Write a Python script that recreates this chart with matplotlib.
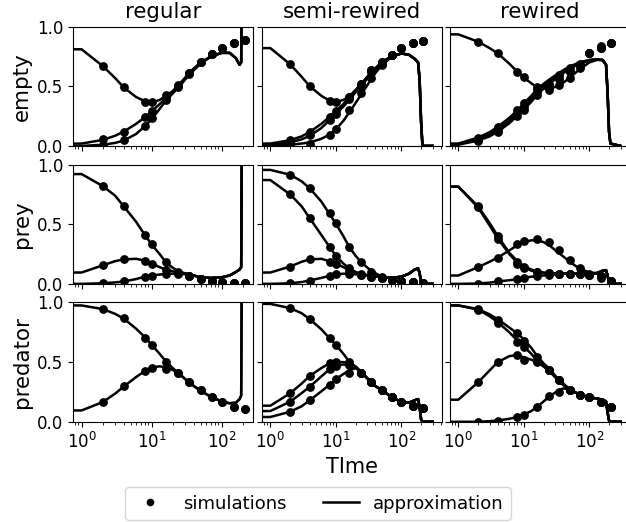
import numpy as np
import matplotlib
matplotlib.use("Agg")
import matplotlib.pyplot as plt
from matplotlib.lines import Line2D

nan = np.nan

# time points of the approximation curves and of the simulation dots
t_line = [0.01, 1, 2, 3, 4, 6, 8, 10, 13, 16, 20, 25, 32, 40, 50, 70, 100, 130, 160, 180, 190, 200, 210, 300]
t_sim = [2, 4, 8, 10, 16, 24, 34, 50, 72, 100, 150, 215]

# ---- regular ----
reg_empty_line = [
    [0.81, 0.81, 0.67, 0.57, 0.49, 0.41, 0.375, 0.365, 0.385, 0.42, 0.46, 0.52, 0.59, 0.65, 0.70, 0.75, 0.78, 0.78, 0.735, 0.68, 0.70, 3.0, nan, nan],
    [0.01, 0.02, 0.05, 0.085, 0.12, 0.185, 0.24, 0.29, 0.35, 0.40, 0.45, 0.51, 0.58, 0.64, 0.69, 0.75, 0.78, 0.78, 0.735, 0.68, 0.70, 3.0, nan, nan],
    [0.0, 0.0, 0.01, 0.025, 0.045, 0.10, 0.165, 0.225, 0.31, 0.38, 0.44, 0.50, 0.575, 0.635, 0.69, 0.75, 0.78, 0.78, 0.735, 0.68, 0.70, 3.0, nan, nan],
]
reg_empty_sim = [
    [0.67, 0.49, 0.37, 0.37, 0.425, 0.51, 0.61, 0.70, 0.77, 0.82, 0.865, 0.89],
    [0.055, 0.12, 0.24, 0.29, 0.40, 0.50, 0.61, 0.70, 0.77, 0.82, 0.865, 0.89],
    [0.005, 0.05, 0.165, 0.23, 0.385, 0.49, 0.60, 0.70, 0.77, 0.82, 0.865, 0.89],
]
reg_prey_line = [
    [0.92, 0.92, 0.82, 0.74, 0.65, 0.52, 0.41, 0.33, 0.25, 0.18, 0.135, 0.10, 0.085, 0.07, 0.055, 0.05, 0.055, 0.07, 0.10, 0.12, 0.14, 3.0, nan, nan],
    [0.095, 0.095, 0.155, 0.19, 0.205, 0.21, 0.195, 0.17, 0.14, 0.12, 0.105, 0.095, 0.085, 0.07, 0.055, 0.05, 0.055, 0.07, 0.10, 0.12, 0.14, 3.0, nan, nan],
    [0.0, 0.0, 0.005, 0.012, 0.02, 0.04, 0.06, 0.07, 0.078, 0.082, 0.085, 0.085, 0.08, 0.07, 0.055, 0.05, 0.055, 0.07, 0.10, 0.12, 0.14, 3.0, nan, nan],
]
reg_prey_sim = [
    [0.82, 0.65, 0.41, 0.33, 0.18, 0.10, 0.065, 0.04, 0.028, 0.015, 0.008, 0.004],
    [0.155, 0.205, 0.19, 0.165, 0.12, 0.095, 0.065, 0.04, 0.028, 0.015, 0.008, 0.004],
    [0.003, 0.02, 0.06, 0.07, 0.08, 0.085, 0.065, 0.04, 0.028, 0.015, 0.008, 0.004],
]
reg_pred_line = [
    [0.98, 0.975, 0.945, 0.905, 0.865, 0.78, 0.71, 0.645, 0.57, 0.505, 0.45, 0.40, 0.345, 0.30, 0.26, 0.21, 0.17, 0.155, 0.16, 0.19, 0.22, 3.0, nan, nan],
    [0.09, 0.095, 0.165, 0.235, 0.295, 0.375, 0.425, 0.455, 0.465, 0.455, 0.435, 0.40, 0.345, 0.30, 0.26, 0.21, 0.17, 0.155, 0.16, 0.19, 0.22, 3.0, nan, nan],
]
reg_pred_sim = [
    [0.947, 0.866, 0.706, 0.645, 0.504, 0.41, 0.33, 0.266, 0.21, 0.163, 0.126, 0.107],
    [0.168, 0.30, 0.426, 0.454, 0.44, 0.41, 0.33, 0.266, 0.21, 0.163, 0.126, 0.107],
]

# ---- semi-rewired ----
semi_empty_line = [
    [0.82, 0.82, 0.685, 0.58, 0.50, 0.42, 0.38, 0.37, 0.385, 0.415, 0.465, 0.525, 0.595, 0.65, 0.70, 0.75, 0.775, 0.765, 0.73, 0.70, 0.55, 0.2, 0.0, 0.0],
    [0.01, 0.02, 0.048, 0.08, 0.118, 0.185, 0.244, 0.29, 0.35, 0.41, 0.47, 0.525, 0.595, 0.65, 0.70, 0.75, 0.775, 0.765, 0.73, 0.70, 0.55, 0.2, 0.0, 0.0],
    [0.005, 0.01, 0.03, 0.055, 0.085, 0.15, 0.215, 0.265, 0.33, 0.385, 0.45, 0.51, 0.58, 0.64, 0.695, 0.75, 0.775, 0.765, 0.73, 0.70, 0.55, 0.2, 0.0, 0.0],
    [0.0, 0.0, 0.01, 0.02, 0.03, 0.06, 0.095, 0.14, 0.21, 0.28, 0.36, 0.44, 0.53, 0.61, 0.675, 0.745, 0.775, 0.765, 0.73, 0.70, 0.55, 0.2, 0.0, 0.0],
]
semi_empty_sim = [
    [0.687, 0.50, 0.378, 0.37, 0.41, 0.52, 0.635, 0.70, 0.76, 0.818, 0.86, 0.88],
    [0.048, 0.118, 0.244, 0.29, 0.41, 0.52, 0.635, 0.70, 0.76, 0.818, 0.86, 0.88],
    [0.03, 0.09, 0.22, 0.27, 0.39, 0.50, 0.62, 0.69, 0.76, 0.818, 0.86, 0.88],
    [0.01, 0.02, 0.09, 0.14, 0.30, 0.44, 0.566, 0.68, 0.76, 0.818, 0.86, 0.88],
]
semi_prey_line = [
    [0.958, 0.955, 0.915, 0.86, 0.80, 0.69, 0.585, 0.505, 0.40, 0.31, 0.235, 0.175, 0.125, 0.09, 0.06, 0.05, 0.06, 0.085, 0.12, 0.13, 0.09, 0.01, 0.0, 0.0],
    [0.875, 0.87, 0.75, 0.65, 0.55, 0.41, 0.31, 0.235, 0.17, 0.13, 0.10, 0.08, 0.07, 0.065, 0.06, 0.05, 0.06, 0.085, 0.12, 0.13, 0.09, 0.01, 0.0, 0.0],
    [0.095, 0.095, 0.145, 0.185, 0.205, 0.21, 0.19, 0.17, 0.14, 0.115, 0.095, 0.08, 0.07, 0.065, 0.06, 0.05, 0.06, 0.085, 0.12, 0.13, 0.09, 0.01, 0.0, 0.0],
    [0.0, 0.0, 0.005, 0.015, 0.028, 0.05, 0.067, 0.08, 0.085, 0.085, 0.08, 0.075, 0.07, 0.065, 0.06, 0.05, 0.06, 0.085, 0.12, 0.13, 0.09, 0.01, 0.0, 0.0],
]
semi_prey_sim = [
    [0.916, 0.80, 0.59, 0.507, 0.31, 0.18, 0.10, 0.056, 0.033, 0.02, 0.012, 0.005],
    [0.75, 0.55, 0.31, 0.234, 0.13, 0.075, 0.06, 0.05, 0.033, 0.02, 0.012, 0.005],
    [0.145, 0.21, 0.186, 0.167, 0.11, 0.08, 0.06, 0.05, 0.033, 0.02, 0.012, 0.005],
    [0.005, 0.028, 0.067, 0.083, 0.085, 0.075, 0.065, 0.05, 0.033, 0.02, 0.012, 0.005],
]
semi_pred_line = [
    [0.99, 0.988, 0.953, 0.91, 0.86, 0.775, 0.70, 0.645, 0.57, 0.505, 0.46, 0.41, 0.35, 0.30, 0.265, 0.21, 0.165, 0.16, 0.18, 0.19, 0.12, 0.02, 0.0, 0.0],
    [0.13, 0.135, 0.238, 0.32, 0.384, 0.45, 0.49, 0.50, 0.50, 0.49, 0.465, 0.41, 0.35, 0.30, 0.265, 0.21, 0.165, 0.16, 0.18, 0.19, 0.12, 0.02, 0.0, 0.0],
    [0.085, 0.09, 0.168, 0.24, 0.294, 0.38, 0.44, 0.468, 0.48, 0.475, 0.46, 0.41, 0.35, 0.30, 0.265, 0.21, 0.165, 0.16, 0.18, 0.19, 0.12, 0.02, 0.0, 0.0],
    [0.037, 0.04, 0.084, 0.13, 0.18, 0.255, 0.31, 0.356, 0.40, 0.43, 0.45, 0.41, 0.35, 0.30, 0.265, 0.21, 0.165, 0.16, 0.18, 0.19, 0.12, 0.02, 0.0, 0.0],
]
semi_pred_sim = [
    [0.953, 0.86, 0.70, 0.645, 0.504, 0.41, 0.33, 0.266, 0.21, 0.163, 0.132, 0.112],
    [0.238, 0.384, 0.49, 0.50, 0.49, 0.41, 0.33, 0.266, 0.21, 0.163, 0.132, 0.112],
    [0.168, 0.294, 0.44, 0.468, 0.475, 0.41, 0.33, 0.266, 0.21, 0.163, 0.132, 0.112],
    [0.084, 0.18, 0.31, 0.356, 0.41, 0.41, 0.33, 0.266, 0.21, 0.163, 0.132, 0.112],
]

# ---- rewired ----
rew_empty_line = [
    [0.94, 0.935, 0.874, 0.82, 0.776, 0.69, 0.62, 0.574, 0.525, 0.49, 0.48, 0.48, 0.50, 0.53, 0.57, 0.64, 0.70, 0.72, 0.72, 0.68, 0.45, 0.12, 0.02, 0.0],
    [0.01, 0.02, 0.07, 0.115, 0.16, 0.235, 0.30, 0.356, 0.42, 0.475, 0.52, 0.56, 0.60, 0.635, 0.665, 0.70, 0.72, 0.725, 0.72, 0.68, 0.45, 0.12, 0.02, 0.0],
    [0.005, 0.015, 0.055, 0.095, 0.14, 0.21, 0.28, 0.33, 0.395, 0.45, 0.50, 0.54, 0.585, 0.625, 0.655, 0.695, 0.72, 0.725, 0.72, 0.68, 0.45, 0.12, 0.02, 0.0],
    [0.0, 0.01, 0.045, 0.08, 0.12, 0.19, 0.255, 0.305, 0.37, 0.43, 0.48, 0.525, 0.57, 0.61, 0.645, 0.69, 0.715, 0.725, 0.72, 0.68, 0.45, 0.12, 0.02, 0.0],
]
rew_empty_sim = [
    [0.874, 0.776, 0.62, 0.574, 0.49, 0.47, 0.51, 0.566, 0.65, 0.776, 0.82, 0.86],
    [0.07, 0.16, 0.30, 0.356, 0.48, 0.52, 0.594, 0.65, 0.69, 0.776, 0.835, 0.86],
    [0.055, 0.14, 0.28, 0.33, 0.45, 0.50, 0.57, 0.63, 0.68, 0.776, 0.82, 0.86],
    [0.04, 0.12, 0.25, 0.30, 0.43, 0.49, 0.56, 0.62, 0.67, 0.776, 0.82, 0.86],
]
rew_prey_line = [
    [0.82, 0.815, 0.65, 0.51, 0.40, 0.26, 0.19, 0.15, 0.12, 0.105, 0.095, 0.09, 0.085, 0.085, 0.085, 0.085, 0.085, 0.09, 0.11, 0.115, 0.07, 0.01, 0.0, 0.0],
    [0.82, 0.815, 0.64, 0.49, 0.38, 0.25, 0.175, 0.14, 0.11, 0.10, 0.09, 0.09, 0.085, 0.085, 0.085, 0.085, 0.085, 0.09, 0.11, 0.115, 0.07, 0.01, 0.0, 0.0],
    [0.067, 0.07, 0.14, 0.185, 0.22, 0.28, 0.325, 0.35, 0.365, 0.365, 0.35, 0.32, 0.27, 0.23, 0.185, 0.13, 0.095, 0.09, 0.11, 0.115, 0.07, 0.01, 0.0, 0.0],
    [0.0, 0.0, 0.003, 0.01, 0.02, 0.03, 0.04, 0.05, 0.06, 0.065, 0.07, 0.075, 0.08, 0.085, 0.085, 0.085, 0.085, 0.09, 0.11, 0.115, 0.07, 0.01, 0.0, 0.0],
]
rew_prey_sim = [
    [0.65, 0.40, 0.186, 0.145, 0.10, 0.09, 0.08, 0.08, 0.08, 0.075, 0.07, 0.02],
    [0.64, 0.38, 0.17, 0.13, 0.10, 0.09, 0.08, 0.08, 0.08, 0.075, 0.047, 0.02],
    [0.14, 0.22, 0.334, 0.36, 0.38, 0.35, 0.284, 0.20, 0.13, 0.08, 0.07, 0.02],
    [0.0, 0.02, 0.04, 0.05, 0.065, 0.075, 0.08, 0.08, 0.08, 0.075, 0.07, 0.02],
]
rew_pred_line = [
    [0.98, 0.975, 0.945, 0.90, 0.86, 0.79, 0.74, 0.69, 0.62, 0.55, 0.49, 0.44, 0.37, 0.32, 0.275, 0.23, 0.205, 0.195, 0.185, 0.17, 0.08, 0.01, 0.0, 0.0],
    [0.98, 0.975, 0.94, 0.885, 0.835, 0.75, 0.68, 0.63, 0.57, 0.51, 0.465, 0.42, 0.36, 0.31, 0.27, 0.23, 0.205, 0.195, 0.185, 0.17, 0.08, 0.01, 0.0, 0.0],
    [0.18, 0.185, 0.33, 0.43, 0.50, 0.55, 0.56, 0.54, 0.52, 0.50, 0.465, 0.42, 0.36, 0.31, 0.27, 0.23, 0.205, 0.195, 0.185, 0.17, 0.08, 0.01, 0.0, 0.0],
    [0.0, 0.0, 0.0, 0.005, 0.01, 0.025, 0.04, 0.06, 0.09, 0.125, 0.17, 0.215, 0.255, 0.28, 0.27, 0.23, 0.205, 0.195, 0.185, 0.17, 0.08, 0.01, 0.0, 0.0],
]
rew_pred_sim = [
    [0.945, 0.855, 0.743, 0.68, 0.546, 0.434, 0.35, 0.266, 0.224, 0.21, 0.168, 0.126],
    [0.94, 0.83, 0.67, 0.63, 0.51, 0.43, 0.35, 0.266, 0.224, 0.21, 0.168, 0.126],
    [0.33, 0.50, 0.56, 0.52, 0.50, 0.43, 0.35, 0.266, 0.224, 0.21, 0.168, 0.126],
    [0.0, 0.01, 0.04, 0.056, 0.126, 0.216, 0.25, 0.266, 0.224, 0.21, 0.168, 0.126],
]

col_titles = ["regular", "semi-rewired", "rewired"]
row_labels = ["empty", "prey", "predator"]
x_limits = [(0.76, 283), (0.735, 412), (0.745, 418)]

panels = [
    [(reg_empty_line, reg_empty_sim), (semi_empty_line, semi_empty_sim), (rew_empty_line, rew_empty_sim)],
    [(reg_prey_line, reg_prey_sim), (semi_prey_line, semi_prey_sim), (rew_prey_line, rew_prey_sim)],
    [(reg_pred_line, reg_pred_sim), (semi_pred_line, semi_pred_sim), (rew_pred_line, rew_pred_sim)],
]

fig, axes = plt.subplots(3, 3, figsize=(6.26, 5.22), dpi=100, sharex="col", sharey=True)
fig.subplots_adjust(left=0.117, right=1.0064, top=0.949, bottom=0.192, wspace=0.046, hspace=0.156)

for i in range(3):
    for j in range(3):
        ax = axes[i, j]
        lines, sims = panels[i][j]
        for y in lines:
            ax.plot(t_line, y, "-", color="black", lw=1.8)
        for y in sims:
            ax.plot(t_sim, y, "o", color="black", ms=5.3)
        ax.set_xscale("log")
        ax.set_xlim(*x_limits[j])
        ax.set_ylim(0, 1)
        ax.set_yticks([0, 0.5, 1.0])
        ax.tick_params(labelsize=12)
        if i == 0:
            ax.set_title(col_titles[j], fontsize=15.4)
        if j == 0:
            ax.set_ylabel(row_labels[i], fontsize=15.4)

axes[2, 1].set_xlabel("TIme", fontsize=15)

handles = [
    Line2D([], [], marker="o", ls="none", color="black", ms=4.5),
    Line2D([], [], ls="-", color="black", lw=1.8),
]
fig.legend(handles, ["simulations", "approximation"], loc="lower center",
           bbox_to_anchor=(0.508, -0.013), ncol=2, fontsize=13)

fig.savefig("out.png", dpi=100)
